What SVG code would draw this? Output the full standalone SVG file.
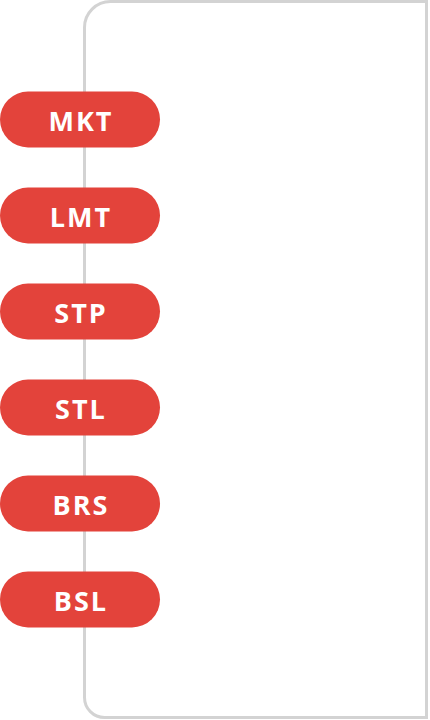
<svg xmlns="http://www.w3.org/2000/svg" width="430" height="720" viewBox="0 0 430 720">
  <style>
    .panel { fill: #ffffff; stroke: #d3d3d3; stroke-width: 3; }
    .pill { fill: #e3433b; }
    .lbl { fill: #ffffff; font-family: "Open Sans", "DejaVu Sans", sans-serif; font-weight: 700; font-size: 27px; letter-spacing: 2px; text-anchor: middle; }
  </style>
  <rect width="430" height="720" fill="#ffffff"/>
  <g id="panel">
    <path class="panel" d="M110.5,1.5 H426.5 V717.5 H104.5 A20,20 0 0 1 84.5,697.5 V27.5 A26,26 0 0 1 110.5,1.5 Z"/>
  </g>
  <g id="connectors"></g>
  <g id="mkt"><rect class="pill" x="0" y="91.5" width="160" height="56" rx="28"/><text class="lbl" x="81" y="131">MKT</text></g>
  <g id="lmt"><rect class="pill" x="0" y="187.5" width="160" height="56" rx="28"/><text class="lbl" x="81" y="227">LMT</text></g>
  <g id="stp"><rect class="pill" x="0" y="283.5" width="160" height="56" rx="28"/><text class="lbl" x="81" y="323">STP</text></g>
  <g id="stl"><rect class="pill" x="0" y="379.5" width="160" height="56" rx="28"/><text class="lbl" x="81" y="419">STL</text></g>
  <g id="brs"><rect class="pill" x="0" y="475.5" width="160" height="56" rx="28"/><text class="lbl" x="81" y="515">BRS</text></g>
  <g id="bsl"><rect class="pill" x="0" y="571.5" width="160" height="56" rx="28"/><text class="lbl" x="81" y="611">BSL</text></g>
</svg>
